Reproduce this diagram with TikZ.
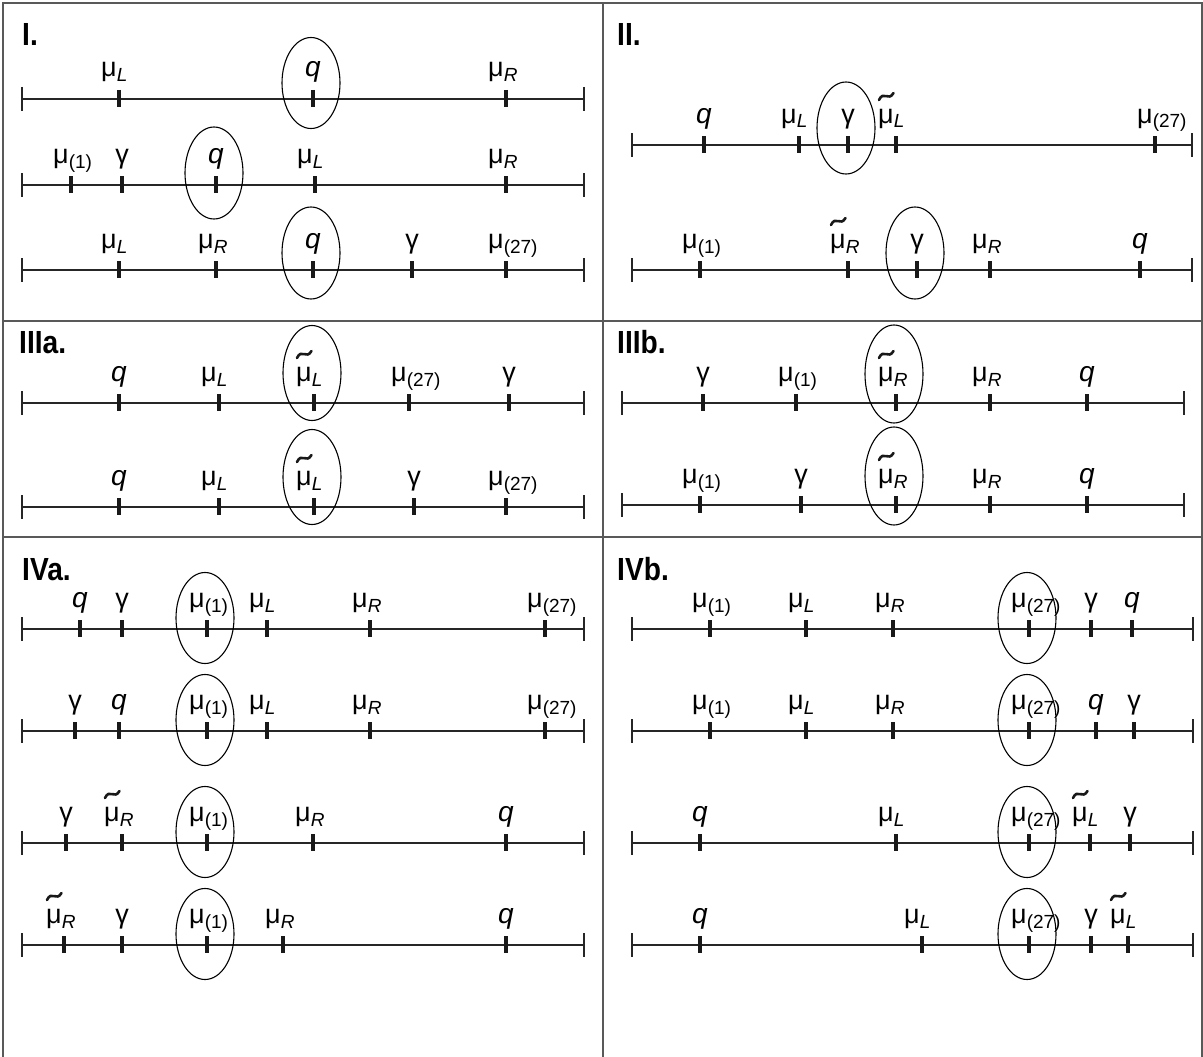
\documentclass[tikz,border=0pt]{standalone}
\usepackage{fontspec}
\setmainfont{Liberation Sans}
\newfontfamily\panelfont[FakeStretch=0.88]{Liberation Sans}
\usetikzlibrary{shapes.geometric}
\newcommand{\lsub}[1]{\raisebox{-5pt}{\fontsize{19}{19}\selectfont #1}}
\newcommand{\muL}{μ\lsub{\itshape L}}
\newcommand{\muR}{μ\lsub{\itshape R}}
\newcommand{\muone}{μ\lsub{(1)}}
\newcommand{\mutt}{μ\lsub{(27)}}
\newcommand{\qq}{{\fontsize{28}{28}\selectfont\itshape q}}
\newcommand{\gm}{γ}
\tikzset{
  axisline/.style={line width=2pt, black!85},
  endbar/.style={line width=1.4pt, black!85},
  tickmark/.style={line width=4.2pt, black!90},
  lab/.style={inner sep=0pt, font=\fontsize{27}{27}\selectfont},
  tildestroke/.style={line width=2.6pt, line cap=round, black!90},
  ring/.style={draw, ellipse, line width=1.1pt, minimum width=58pt, inner sep=0pt},
  panel/.style={inner sep=0pt, font=\panelfont\bfseries\fontsize{32}{32}\selectfont},
  frame/.style={line width=1.6pt, black!65}
}
% axis: name, y, x-left, x-right
\newcommand{\axisrow}[4]{%
  \coordinate (#1-l) at (#3,#2);
  \coordinate (#1-r) at (#4,#2);
  \draw[axisline] (#1-l) -- (#1-r);
  \draw[endbar] ([yshift=12pt]#1-l) -- ([yshift=-12pt]#1-l);
  \draw[endbar] ([yshift=12pt]#1-r) -- ([yshift=-12pt]#1-r);
}
% tick with mu-type label: name, x, y, text
\newcommand{\tm}[4]{%
  \coordinate (#1) at (#2,#3);
  \draw[tickmark] ([yshift=9pt]#1) -- ([yshift=-8pt]#1);
  \node[lab, anchor=base west] (#1-t) at ([xshift=-18pt,yshift=22pt]#1) {#4};
}
% tick with tilde-mu label: name, x, y, subscript
\newcommand{\tmt}[4]{%
  \coordinate (#1) at (#2,#3);
  \draw[tickmark] ([yshift=9pt]#1) -- ([yshift=-8pt]#1);
  \node[lab, anchor=base west] (#1-t) at ([xshift=-18pt,yshift=22pt]#1) {μ\lsub{\itshape #4}};
  \draw[tildestroke] ([xshift=1pt,yshift=23pt]#1-t.base west)
     .. controls ([xshift=5.5pt,yshift=33pt]#1-t.base west) and ([xshift=10.5pt,yshift=21pt]#1-t.base west)
     .. ([xshift=15.5pt,yshift=30pt]#1-t.base west);
}
% tick with centered label
\newcommand{\tc}[4]{%
  \coordinate (#1) at (#2,#3);
  \draw[tickmark] ([yshift=9pt]#1) -- ([yshift=-8pt]#1);
  \node[lab, anchor=base] (#1-t) at ([yshift=22pt]#1) {#4};
}
% ring: name, tick coordinate, up-shift, height
\newcommand{\ringat}[4]{%
  \node[ring, minimum height=#4pt] (#1) at ([xshift=-2pt,yshift=#3pt]#2) {};
}
\begin{document}
\begin{tikzpicture}[x=1pt,y=-1pt]
\useasboundingbox (0,0) rectangle (1203,1057);
% frame
\draw[frame] (3,1057) -- (3,3) -- (1202,3) -- (1202,1057);
\draw[frame] (3,321) -- (1202,321);
\draw[frame] (3,537) -- (1202,537);
\draw[frame] (603,3) -- (603,1057);
% panel labels
\node[panel, anchor=base west] (PI) at (22,46) {I.};
\node[panel, anchor=base west] (PII) at (617,46) {II.};
\node[panel, anchor=base west] (PIIIa) at (19,353) {IIIa.};
\node[panel, anchor=base west] (PIIIb) at (617,353) {IIIb.};
\node[panel, anchor=base west] (PIVa) at (22,580) {IVa.};
\node[panel, anchor=base west] (PIVb) at (617,580) {IVb.};

% ---------- I ----------
\axisrow{Ia}{99}{22}{584}
\tm{Ia1}{119}{99}{\muL}
\tc{Ia2}{313}{99}{\qq}
\tm{Ia3}{506}{99}{\muR}
\ringat{Iar}{Ia2}{16}{91}

\axisrow{Ib}{185}{22}{584}
\tm{Ib1}{71}{185}{\muone}
\tc{Ib2}{122}{185}{\gm}
\tc{Ib3}{216}{185}{\qq}
\tm{Ib4}{315}{185}{\muL}
\tm{Ib5}{506}{185}{\muR}
\ringat{Ibr}{Ib3}{12}{92}

\axisrow{Ic}{270}{22}{584}
\tm{Ic1}{119}{270}{\muL}
\tm{Ic2}{216}{270}{\muR}
\tc{Ic3}{313}{270}{\qq}
\tc{Ic4}{412}{270}{\gm}
\tm{Ic5}{506}{270}{\mutt}
\ringat{Icr}{Ic3}{17}{92}

% ---------- II ----------
\axisrow{IIa}{145}{632}{1192}
\tc{IIa1}{704}{145}{\qq}
\tm{IIa2}{799}{145}{\muL}
\tc{IIa3}{848}{145}{\gm}
\tmt{IIa4}{896}{145}{L}
\tm{IIa5}{1155}{145}{\mutt}
\ringat{IIar}{IIa3}{17}{92}

\axisrow{IIb}{270}{632}{1192}
\tm{IIb1}{700}{270}{\muone}
\tmt{IIb2}{848}{270}{R}
\tc{IIb3}{917}{270}{\gm}
\tm{IIb4}{990}{270}{\muR}
\tc{IIb5}{1140}{270}{\qq}
\ringat{IIbr}{IIb3}{17}{92}

% ---------- IIIa ----------
\axisrow{IIIaa}{403}{22}{584}
\tc{IIIaa1}{119}{403}{\qq}
\tm{IIIaa2}{219}{403}{\muL}
\tmt{IIIaa3}{314}{403}{L}
\tm{IIIaa4}{409}{403}{\mutt}
\tc{IIIaa5}{509}{403}{\gm}
\ringat{IIIaar}{IIIaa3}{30}{95}

\axisrow{IIIab}{507}{22}{584}
\tc{IIIab1}{119}{507}{\qq}
\tm{IIIab2}{219}{507}{\muL}
\tmt{IIIab3}{314}{507}{L}
\tc{IIIab4}{414}{507}{\gm}
\tm{IIIab5}{506}{507}{\mutt}
\ringat{IIIabr}{IIIab3}{30}{95}

% ---------- IIIb ----------
\axisrow{IIIba}{403}{622}{1184}
\tc{IIIba1}{703}{403}{\gm}
\tm{IIIba2}{796}{403}{\muone}
\tmt{IIIba3}{896}{403}{R}
\tm{IIIba4}{990}{403}{\muR}
\tc{IIIba5}{1087}{403}{\qq}
\ringat{IIIbar}{IIIba3}{29}{98}

\axisrow{IIIbb}{505}{622}{1184}
\tm{IIIbb1}{700}{505}{\muone}
\tc{IIIbb2}{801}{505}{\gm}
\tmt{IIIbb3}{896}{505}{R}
\tm{IIIbb4}{990}{505}{\muR}
\tc{IIIbb5}{1087}{505}{\qq}
\ringat{IIIbbr}{IIIbb3}{29}{98}

% ---------- IVa ----------
\axisrow{IVaa}{629}{22}{584}
\tc{IVaa1}{80}{629}{\qq}
\tc{IVaa2}{122}{629}{\gm}
\tm{IVaa3}{207}{629}{\muone}
\tm{IVaa4}{267}{629}{\muL}
\tm{IVaa5}{370}{629}{\muR}
\tm{IVaa6}{545}{629}{\mutt}
\ringat{IVaar}{IVaa3}{11}{91}

\axisrow{IVab}{731}{22}{584}
\tc{IVab1}{75}{731}{\gm}
\tc{IVab2}{119}{731}{\qq}
\tm{IVab3}{207}{731}{\muone}
\tm{IVab4}{267}{731}{\muL}
\tm{IVab5}{370}{731}{\muR}
\tm{IVab6}{545}{731}{\mutt}
\ringat{IVabr}{IVab3}{11}{91}

\axisrow{IVac}{843}{22}{584}
\tc{IVac1}{66}{843}{\gm}
\tmt{IVac2}{122}{843}{R}
\tm{IVac3}{207}{843}{\muone}
\tm{IVac4}{313}{843}{\muR}
\tc{IVac5}{506}{843}{\qq}
\ringat{IVacr}{IVac3}{11}{91}

\axisrow{IVad}{945}{22}{584}
\tmt{IVad1}{64}{945}{R}
\tc{IVad2}{122}{945}{\gm}
\tm{IVad3}{207}{945}{\muone}
\tm{IVad4}{283}{945}{\muR}
\tc{IVad5}{506}{945}{\qq}
\ringat{IVadr}{IVad3}{11}{91}

% ---------- IVb ----------
\axisrow{IVba}{629}{632}{1193}
\tm{IVba1}{710}{629}{\muone}
\tm{IVba2}{806}{629}{\muL}
\tm{IVba3}{893}{629}{\muR}
\tm{IVba4}{1029}{629}{\mutt}
\tc{IVba5}{1091}{629}{\gm}
\tc{IVba6}{1132}{629}{\qq}
\ringat{IVbar}{IVba4}{11}{91}

\axisrow{IVbb}{731}{632}{1193}
\tm{IVbb1}{710}{731}{\muone}
\tm{IVbb2}{806}{731}{\muL}
\tm{IVbb3}{893}{731}{\muR}
\tm{IVbb4}{1029}{731}{\mutt}
\tc{IVbb5}{1096}{731}{\qq}
\tc{IVbb6}{1134}{731}{\gm}
\ringat{IVbbr}{IVbb4}{11}{91}

\axisrow{IVbc}{843}{632}{1193}
\tc{IVbc1}{700}{843}{\qq}
\tm{IVbc2}{896}{843}{\muL}
\tm{IVbc3}{1029}{843}{\mutt}
\tmt{IVbc4}{1090}{843}{L}
\tc{IVbc5}{1130}{843}{\gm}
\ringat{IVbcr}{IVbc3}{11}{91}

\axisrow{IVbd}{945}{632}{1193}
\tc{IVbd1}{700}{945}{\qq}
\tm{IVbd2}{922}{945}{\muL}
\tm{IVbd3}{1029}{945}{\mutt}
\tc{IVbd4}{1091}{945}{\gm}
\tmt{IVbd5}{1128}{945}{L}
\ringat{IVbdr}{IVbd3}{11}{91}
\end{tikzpicture}
\end{document}
